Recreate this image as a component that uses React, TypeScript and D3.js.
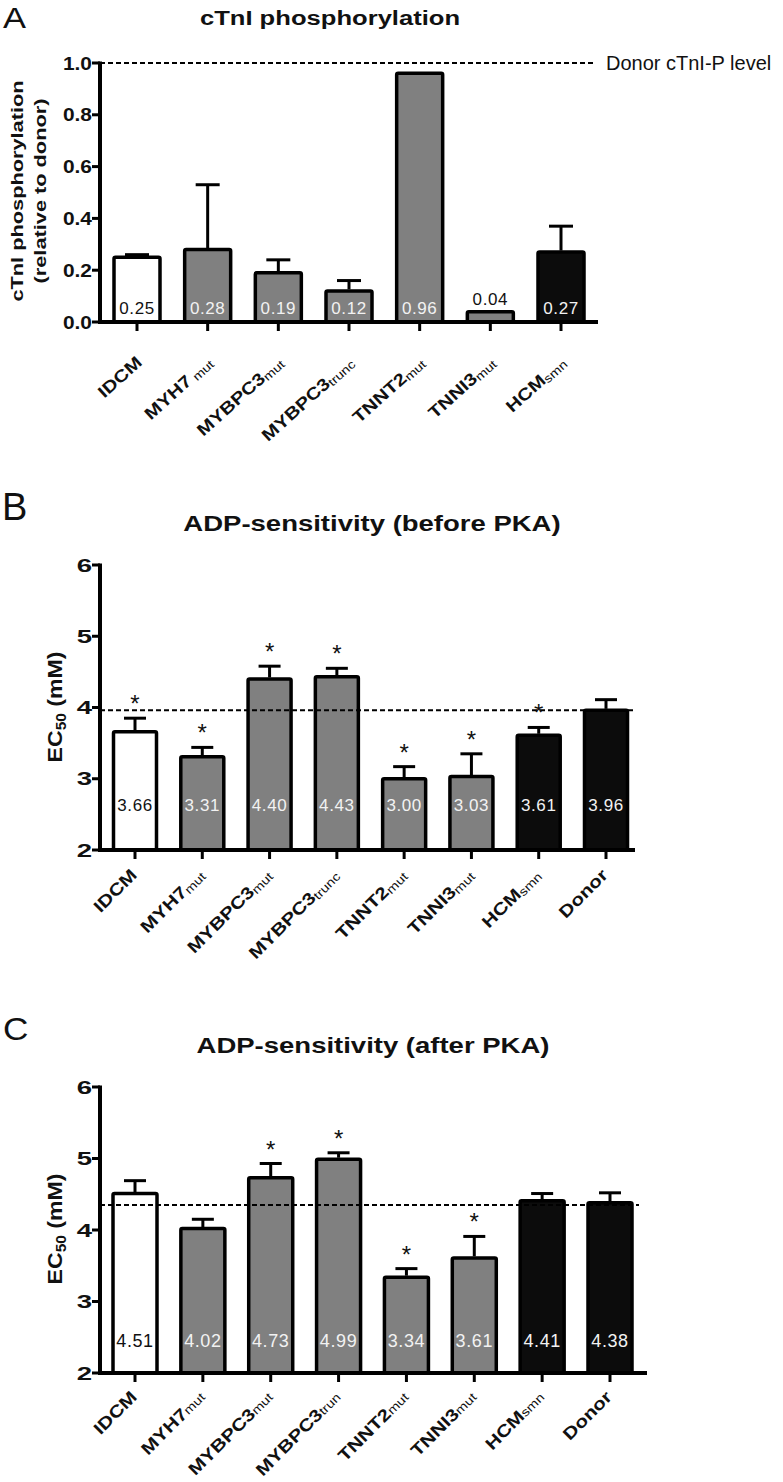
import React from "react";
import * as d3 from "d3";

const FONT = "'Liberation Sans', Arial, Helvetica, sans-serif";

// ---------- Panel A: cTnI phosphorylation ----------
const catsA = ["IDCM", "MYH7", "MYBPC3", "MYBPC3", "TNNT2", "TNNI3", "HCM"];
const subsA = ["", " mut", "mut", "trunc", "mut", "mut", "smn"];
const valuesA = [0.25, 0.28, 0.19, 0.12, 0.96, 0.04, 0.27];
const semA = [0.01, 0.25, 0.05, 0.04, 0, 0, 0.1];
const fillsA = ["white", "gray", "gray", "gray", "gray", "gray", "black"];
const starsA = [false, false, false, false, false, false, false];
const ticksA = [0, 0.2, 0.4, 0.6, 0.8, 1.0];
const refA = 1.0;

// ---------- Panel B: ADP-sensitivity (before PKA) ----------
const catsB = ["IDCM", "MYH7", "MYBPC3", "MYBPC3", "TNNT2", "TNNI3", "HCM", "Donor"];
const subsB = ["", "mut", "mut", "trunc", "mut", "mut", "smn", ""];
const valuesB = [3.66, 3.31, 4.4, 4.43, 3.0, 3.03, 3.61, 3.96];
const semB = [0.19, 0.13, 0.18, 0.12, 0.17, 0.32, 0.11, 0.15];
const starsB = [true, true, true, true, true, true, true, false];
const fillsB = ["white", "gray", "gray", "gray", "gray", "gray", "black", "black"];
const ticksBC = [2, 3, 4, 5, 6];
const refB = 3.96;

// ---------- Panel C: ADP-sensitivity (after PKA) ----------
const catsC = ["IDCM", "MYH7", "MYBPC3", "MYBPC3", "TNNT2", "TNNI3", "HCM", "Donor"];
const subsC = ["", "mut", "mut", "trun", "mut", "mut", "smn", ""];
const valuesC = [4.51, 4.02, 4.73, 4.99, 3.34, 3.61, 4.41, 4.38];
const semC = [0.18, 0.13, 0.2, 0.09, 0.12, 0.3, 0.1, 0.14];
const starsC = [false, false, true, true, true, true, false, false];
const fillsC = ["white", "gray", "gray", "gray", "gray", "gray", "black", "black"];
const refC = 4.35;

const FILL: Record<string, string> = { white: "#ffffff", gray: "#808080", black: "#0c0c0c" };

function SText(props: any) {
  const { x, y, sx = 1, rot = 0, children, ...rest } = props;
  return (
    <text
      transform={`translate(${x},${y}) rotate(${rot}) scale(${sx},1)`}
      fontFamily={FONT}
      {...rest}
    >
      {children}
    </text>
  );
}

function BarPanel(p: any) {
  const y = d3.scaleLinear().domain(p.domain).range([p.yBottom, p.yTop]);
  const idx = p.values.map((_: number, i: number) => String(i));
  const x = d3.scalePoint<string>().domain(idx).range([p.cx0, p.cx1]);
  const yb = p.yBottom;
  return (
    <g>
      {p.values.map((v: number, i: number) => {
        const cx = x(String(i))!;
        const top = y(v);
        return (
          <rect
            key={"b" + i}
            x={cx - p.barW / 2}
            y={top}
            width={p.barW}
            height={yb - top}
            fill={FILL[p.fills[i]]}
            stroke="#000"
            strokeWidth={3.5}
            strokeLinejoin="round"
            rx={1.5}
          />
        );
      })}
      {p.values.map((v: number, i: number) => {
        if (!p.sem[i]) return null;
        const cx = x(String(i))!;
        const t = y(v + p.sem[i]);
        return (
          <g key={"e" + i} stroke="#000" strokeWidth={3}>
            <line x1={cx} x2={cx} y1={y(v) - 1.5} y2={t} />
            <line x1={cx - p.capHalf} x2={cx + p.capHalf} y1={t} y2={t} />
          </g>
        );
      })}
      <line
        x1={p.axisX}
        x2={p.refEnd}
        y1={y(p.refValue)}
        y2={y(p.refValue)}
        stroke="#000"
        strokeWidth={2}
        strokeDasharray="5,3"
      />
      {p.values.map((v: number, i: number) =>
        p.stars[i] ? (
          <text
            key={"s" + i}
            x={x(String(i))!}
            y={y(v + p.sem[i]) - 6}
            textAnchor="middle"
            fontFamily={FONT}
            fontSize={24}
            fill="#111"
          >
            *
          </text>
        ) : null
      )}
      {p.values.map((v: number, i: number) => {
        const cx = x(String(i))!;
        const top = y(v);
        const inside = yb - top > 28;
        const col = inside && p.fills[i] !== "white" ? "#f2f2f2" : "#111";
        return (
          <text
            key={"v" + i}
            x={cx}
            y={inside ? yb - p.valOffset : top - 7}
            textAnchor="middle"
            fontFamily={FONT}
            fontSize={p.valSize}
            letterSpacing={0.6}
            fill={col}
          >
            {d3.format(".2f")(v)}
          </text>
        );
      })}
      <line x1={p.axisX} x2={p.axisX} y1={p.yTop - 1.5} y2={yb + 2} stroke="#000" strokeWidth={4} />
      <line x1={p.axisX - 2} x2={p.axisEnd} y1={yb} y2={yb} stroke="#000" strokeWidth={4} />
      {p.ticks.map((t: number) => (
        <g key={"t" + t}>
          <line x1={p.axisX - 8} x2={p.axisX} y1={y(t)} y2={y(t)} stroke="#000" strokeWidth={3} />
          <SText
            x={p.axisX - 8}
            y={y(t) + 6.5}
            sx={p.tickSx}
            textAnchor="end"
            fontWeight="bold"
            fontSize={19}
            fill="#111"
          >
            {p.tickFmt(t)}
          </SText>
        </g>
      ))}
      {p.values.map((_: number, i: number) => {
        const cx = x(String(i))!;
        return (
          <line key={"xt" + i} x1={cx} x2={cx} y1={yb} y2={yb + 9} stroke="#000" strokeWidth={3} />
        );
      })}
      {p.cats.map((c: string, i: number) => {
        const cx = x(String(i))!;
        return (
          <SText
            key={"c" + i}
            x={cx + p.labDx}
            y={yb + p.labDy}
            rot={p.labRot}
            sx={p.labSx}
            textAnchor="end"
            fontWeight="bold"
            fontSize={17}
            fill="#111"
          >
            {c}
            {p.subs[i] ? (
              <tspan fontWeight="normal" fontSize={12} dy={p.subDy}>
                {p.subs[i]}
              </tspan>
            ) : null}
          </SText>
        );
      })}
    </g>
  );
}

export default function App() {
  return (
    <svg
      width={783}
      height={1482}
      style={{ position: "absolute", left: 0, top: 0, background: "#fff" }}
    >
      <rect width={783} height={1482} fill="#fff" />
      {/* Panel A */}
      <SText x={3} y={28} sx={1.15} fontSize={30} fill="#111">A</SText>
      <SText x={330} y={25} sx={1.28} textAnchor="middle" fontWeight="bold" fontSize={20} fill="#111">
        cTnI phosphorylation
      </SText>
      <SText x={23} y={191} rot={-90} sx={1.28} textAnchor="middle" fontWeight="bold" fontSize={17} fill="#111">
        cTnI phosphorylation
      </SText>
      <SText x={46} y={191} rot={-90} sx={1.28} textAnchor="middle" fontWeight="bold" fontSize={17} fill="#111">
        (relative to donor)
      </SText>
      <SText x={606} y={70} fontSize={20} fill="#111">Donor cTnI-P level</SText>
      <BarPanel
        cats={catsA}
        subs={subsA}
        values={valuesA}
        sem={semA}
        fills={fillsA}
        stars={starsA}
        ticks={ticksA}
        tickFmt={d3.format(".1f")}
        tickSx={1.1}
        refValue={refA}
        domain={[0, 1]}
        yTop={63}
        yBottom={322}
        cx0={137}
        cx1={561}
        axisX={100}
        axisEnd={598}
        refEnd={593}
        barW={46}
        capHalf={12}
        valOffset={8}
        valSize={17}
        labDx={6}
        labDy={42}
        labRot={-42}
        labSx={1.2}
        subDy={2}
      />

      {/* Panel B */}
      <SText x={2} y={520} fontSize={38} fill="#111">B</SText>
      <SText x={372} y={531} sx={1.25} textAnchor="middle" fontWeight="bold" fontSize={22} fill="#111">
        ADP-sensitivity (before PKA)
      </SText>
      <SText x={62} y={707} rot={-90} sx={1.1} textAnchor="middle" fontWeight="bold" fontSize={21} fill="#111">
        EC<tspan fontSize={14} dy={4}>50</tspan>
        <tspan dy={-4}> (mM)</tspan>
      </SText>
      <BarPanel
        cats={catsB}
        subs={subsB}
        values={valuesB}
        sem={semB}
        fills={fillsB}
        stars={starsB}
        ticks={ticksBC}
        tickFmt={d3.format("d")}
        tickSx={1.45}
        refValue={refB}
        domain={[2, 6]}
        yTop={565}
        yBottom={850}
        cx0={135}
        cx1={606}
        axisX={100}
        axisEnd={635}
        refEnd={635}
        barW={43}
        capHalf={11}
        valOffset={39}
        valSize={17}
        labDx={3}
        labDy={26}
        labRot={-45}
        labSx={1.22}
        subDy={2}
      />

      {/* Panel C */}
      <SText x={3} y={1040} sx={1.1} fontSize={32} fill="#111">C</SText>
      <SText x={373} y={1053} sx={1.25} textAnchor="middle" fontWeight="bold" fontSize={22} fill="#111">
        ADP-sensitivity (after PKA)
      </SText>
      <SText x={62} y={1229} rot={-90} sx={1.1} textAnchor="middle" fontWeight="bold" fontSize={21} fill="#111">
        EC<tspan fontSize={14} dy={4}>50</tspan>
        <tspan dy={-4}> (mM)</tspan>
      </SText>
      <BarPanel
        cats={catsC}
        subs={subsC}
        values={valuesC}
        sem={semC}
        fills={fillsC}
        stars={starsC}
        ticks={ticksBC}
        tickFmt={d3.format("d")}
        tickSx={1.45}
        refValue={refC}
        domain={[2, 6]}
        yTop={1087}
        yBottom={1373}
        cx0={135}
        cx1={610}
        axisX={100}
        axisEnd={647}
        refEnd={639}
        barW={44}
        capHalf={11}
        valOffset={26}
        valSize={18}
        labDx={3}
        labDy={25}
        labRot={-45}
        labSx={1.22}
        subDy={0}
      />
    </svg>
  );
}
